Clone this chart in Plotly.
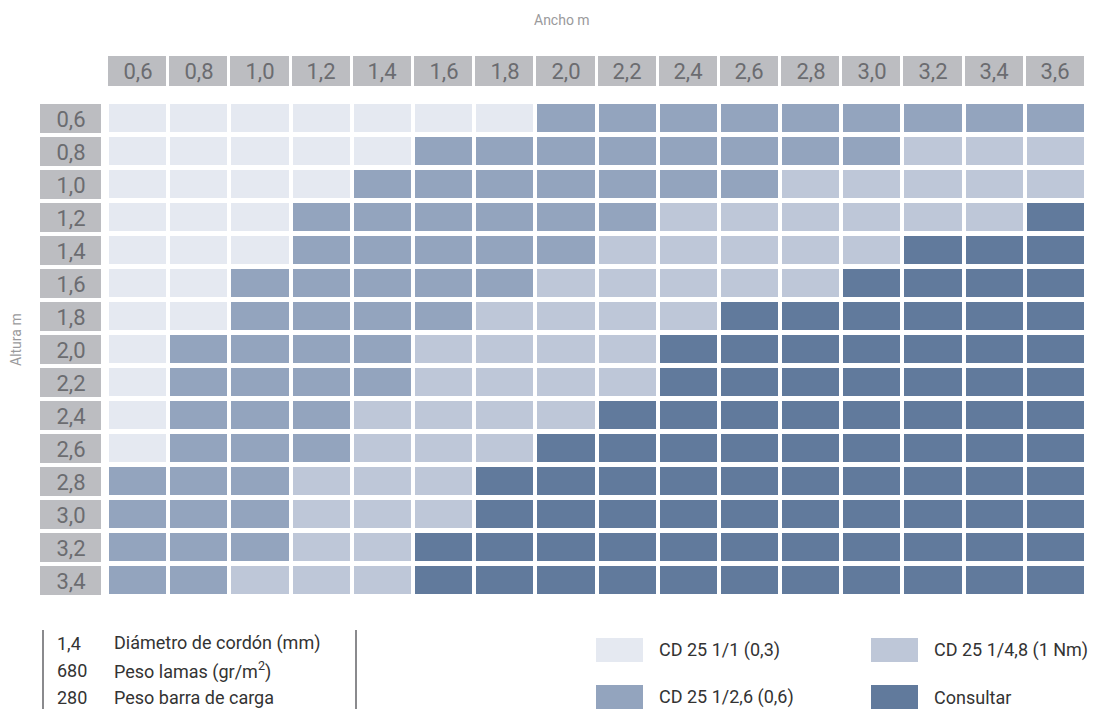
import plotly.graph_objects as go

# Ancho (columns) and Altura (rows) in metres
ANCHO = ["0,6", "0,8", "1,0", "1,2", "1,4", "1,6", "1,8", "2,0",
         "2,2", "2,4", "2,6", "2,8", "3,0", "3,2", "3,4", "3,6"]
ALTURA = ["0,6", "0,8", "1,0", "1,2", "1,4", "1,6", "1,8", "2,0",
          "2,2", "2,4", "2,6", "2,8", "3,0", "3,2", "3,4"]

# 0 = CD 25 1/1, 1 = CD 25 1/2,6, 2 = CD 25 1/4,8, 3 = Consultar
CORDON = [
    [0, 0, 0, 0, 0, 0, 0, 1, 1, 1, 1, 1, 1, 1, 1, 1],
    [0, 0, 0, 0, 0, 1, 1, 1, 1, 1, 1, 1, 1, 2, 2, 2],
    [0, 0, 0, 0, 1, 1, 1, 1, 1, 1, 1, 2, 2, 2, 2, 2],
    [0, 0, 0, 1, 1, 1, 1, 1, 1, 2, 2, 2, 2, 2, 2, 3],
    [0, 0, 0, 1, 1, 1, 1, 1, 2, 2, 2, 2, 2, 3, 3, 3],
    [0, 0, 1, 1, 1, 1, 1, 2, 2, 2, 2, 2, 3, 3, 3, 3],
    [0, 0, 1, 1, 1, 1, 2, 2, 2, 2, 3, 3, 3, 3, 3, 3],
    [0, 1, 1, 1, 1, 2, 2, 2, 2, 3, 3, 3, 3, 3, 3, 3],
    [0, 1, 1, 1, 1, 2, 2, 2, 2, 3, 3, 3, 3, 3, 3, 3],
    [0, 1, 1, 1, 2, 2, 2, 2, 3, 3, 3, 3, 3, 3, 3, 3],
    [0, 1, 1, 1, 2, 2, 2, 3, 3, 3, 3, 3, 3, 3, 3, 3],
    [1, 1, 1, 2, 2, 2, 3, 3, 3, 3, 3, 3, 3, 3, 3, 3],
    [1, 1, 1, 2, 2, 2, 3, 3, 3, 3, 3, 3, 3, 3, 3, 3],
    [1, 1, 1, 2, 2, 3, 3, 3, 3, 3, 3, 3, 3, 3, 3, 3],
    [1, 1, 2, 2, 2, 3, 3, 3, 3, 3, 3, 3, 3, 3, 3, 3],
]

LEGEND_LABELS = ["CD 25 1/1 (0,3)", "CD 25 1/2,6 (0,6)",
                 "CD 25 1/4,8 (1 Nm)", "Consultar"]
SPEC_VALUES = ["1,4", "680", "280"]
SPEC_LABELS = ["Diámetro de cordón (mm)", "Peso lamas (gr/m<sup>2</sup>)",
               "Peso barra de carga"]

COLORS = ["#e5e9f1", "#93a4be", "#bec7d8", "#617a9c"]
HEAD_BG = "#bcbdc1"
HEAD_FG = "#6b6c70"
FONT = "Roboto, sans-serif"

# the page body has an 8px margin, so the figure sits at (8, 8)
OFF = 8
W, H = 1100 - OFF, 709 - OFF


def px(x):
    return (x - OFF) / W


def py(y):
    return 1 - (y - OFF) / H


# discrete colour bands for codes 0..3
scale = []
for i, c in enumerate(COLORS):
    scale += [[i / 4, c], [(i + 1) / 4, c]]

fig = go.Figure()

# main grid
fig.add_trace(go.Heatmap(
    z=CORDON, x=ANCHO, y=ALTURA,
    zmin=-0.5, zmax=3.5, colorscale=scale, showscale=False,
    xgap=4, ygap=5, hoverinfo="x+y",
    xaxis="x", yaxis="y",
))

# column headers
fig.add_trace(go.Heatmap(
    z=[[1] * len(ANCHO)], x=ANCHO, y=["h"], text=[ANCHO],
    texttemplate="%{text}", textfont=dict(size=22, color=HEAD_FG, family=FONT),
    colorscale=[[0, HEAD_BG], [1, HEAD_BG]], showscale=False,
    xgap=3, hoverinfo="skip", xaxis="x", yaxis="y2",
))

# row headers
fig.add_trace(go.Heatmap(
    z=[[1] for _ in ALTURA], x=["h"], y=ALTURA, text=[[a] for a in ALTURA],
    texttemplate="%{text}", textfont=dict(size=22, color=HEAD_FG, family=FONT),
    colorscale=[[0, HEAD_BG], [1, HEAD_BG]], showscale=False,
    ygap=4, hoverinfo="skip", xaxis="x2", yaxis="y",
))

hidden = dict(showgrid=False, zeroline=False, showticklabels=False, ticks="")
paper = dict(xref="paper", yref="paper", showarrow=False, yanchor="middle")

shapes = []
annotations = [
    dict(text="Ancho m", x=px(562), y=py(20), xanchor="center",
         font=dict(size=14, color="#9a9a9c"), **paper),
    dict(text="Altura m", x=px(16), y=py(340), xanchor="center", textangle=-90,
         font=dict(size=14, color="#9a9a9c"), **paper),
]

# legend boxes, two columns of two
legend_pos = [(596, 650), (596, 697), (871, 650), (871, 697)]
for (lx, ly), label, color in zip(legend_pos, LEGEND_LABELS, COLORS):
    shapes.append(dict(type="rect", xref="paper", yref="paper",
                       x0=px(lx), x1=px(lx + 47), y0=py(ly - 12), y1=py(ly + 12),
                       fillcolor=color, line=dict(width=0)))
    annotations.append(dict(text=label, x=px(lx + 61), y=py(ly), xanchor="left",
                            font=dict(size=18, color="#333333"), **paper))

# spec block with bars either side
for bx in (43, 356):
    shapes.append(dict(type="line", xref="paper", yref="paper",
                       x0=px(bx), x1=px(bx), y0=py(630), y1=py(712),
                       line=dict(color="#8a8a8d", width=2)))
for i, (val, lab) in enumerate(zip(SPEC_VALUES, SPEC_LABELS)):
    yy = py(643 + i * 27)
    annotations.append(dict(text=val, x=px(55), y=yy, xanchor="left",
                            font=dict(size=18, color="#333333"), **paper))
    annotations.append(dict(text=lab, x=px(112), y=yy, xanchor="left",
                            font=dict(size=18, color="#333333"), **paper))

fig.update_layout(
    width=W, height=H,
    margin=dict(l=0, r=0, t=0, b=0),
    paper_bgcolor="white", plot_bgcolor="white",
    font=dict(family=FONT),
    xaxis=dict(domain=[px(107), px(1086)], **hidden),
    xaxis2=dict(domain=[px(40), px(101)], anchor="y", **hidden),
    yaxis=dict(domain=[py(597), py(102)], autorange="reversed", **hidden),
    yaxis2=dict(domain=[py(86), py(56)], anchor="x", **hidden),
    shapes=shapes,
    annotations=annotations,
)

fig.write_html("out.html")
